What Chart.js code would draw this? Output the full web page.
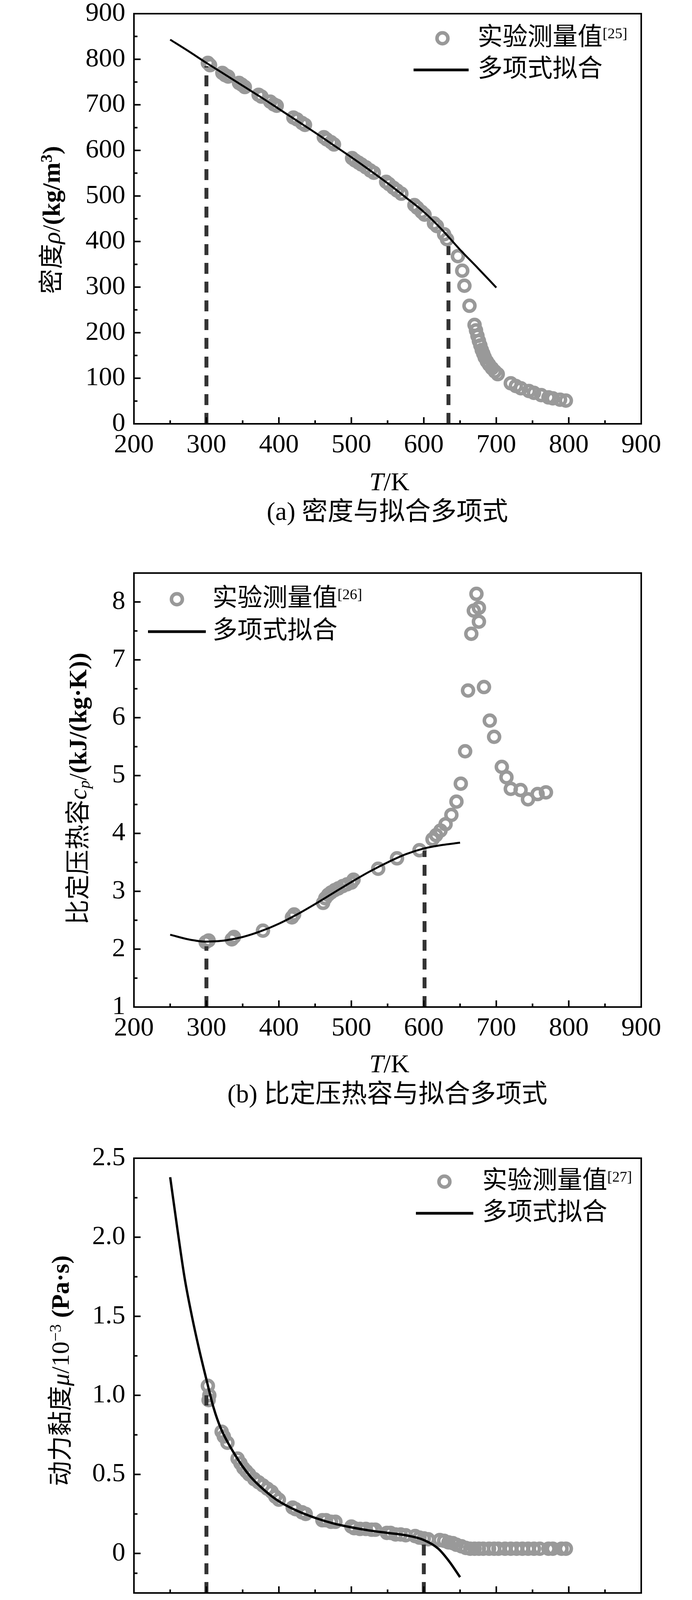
<!DOCTYPE html>
<html>
<head>
<meta charset="utf-8">
<script src="https://cdn.jsdelivr.net/npm/chart.js@4.4.0/dist/chart.umd.min.js"></script>
<style>
  html, body { margin: 0; padding: 0; background: #fff; }
  body { width: 1772px; height: 5882px; position: relative; overflow: hidden; }
  canvas { position: absolute; left: 0; }
</style>
</head>
<body>
<canvas id="pa" width="1772" height="1400" style="top:0px"></canvas>
<canvas id="pb" width="1772" height="1480" style="top:1400px"></canvas>
<canvas id="pc" width="1772" height="1500" style="top:2880px"></canvas>
<canvas id="pd" width="1772" height="1502" style="top:4380px"></canvas>
<script>
// ---- shared axis ----
const tempTicks = [200, 300, 400, 500, 600, 700, 800, 900];
const tempTickLabels = ['200', '300', '400', '500', '600', '700', '800', '900'];

// ---- (a) density ----
const densityT = [302, 305, 322, 326, 330, 345, 349, 353, 372, 376, 388, 393, 397, 420, 425, 432, 436,
  462, 466, 472, 476, 501, 505, 510, 514, 520, 526, 531, 548, 552, 558, 563, 569, 587, 591, 597, 601,
  614, 618, 628, 632, 647, 653, 656, 663, 670, 672, 674, 676, 678, 680, 682, 684, 687, 690, 694, 698,
  702, 720, 727, 734, 745, 752, 762, 772, 778, 788, 796];
const densityRho = [792, 787, 770, 765, 762, 748, 744, 739, 722, 718, 707, 701, 698, 672, 668, 660, 656,
  629, 624, 618, 613, 583, 578, 573, 569, 563, 556, 551, 531, 526, 518, 512, 505, 480, 474, 465, 459,
  440, 434, 416, 405, 368, 336, 303, 259, 217, 205, 193, 182, 172, 162, 154, 146, 137, 130, 122, 115,
  109, 89, 83, 78, 72, 68, 63, 58, 56, 53, 51];
const densityFitT = [250, 275, 300, 325, 350, 375, 400, 425, 450, 475, 500, 525, 550, 575, 600, 625, 650, 675, 700];
const densityFitRho = [843, 818, 792, 767, 742, 717, 691, 665, 639, 612, 585, 557, 528, 497, 465, 426, 382, 341, 299];
const densityGuideT = [300, 634];
const densityGuideTop = [785, 390];
const densityTicks = [0, 100, 200, 300, 400, 500, 600, 700, 800, 900];
const densityTickLabels = ['0', '100', '200', '300', '400', '500', '600', '700', '800', '900'];

// ---- (b) specific heat ----
const cpT = [299, 303, 335, 338, 378, 418, 421, 461, 464, 468, 472, 477, 482, 488, 494, 500, 503, 537, 563,
  594, 612, 617, 623, 630, 638, 645, 651, 657, 661, 665.5, 669, 672.6, 676, 676, 683, 691, 697, 707.6,
  714, 720, 733.5, 743.7, 757, 768.5];
const cpVal = [2.12, 2.15, 2.17, 2.21, 2.32, 2.55, 2.60, 2.80, 2.88, 2.94, 2.98, 3.02, 3.05, 3.09, 3.12, 3.15,
  3.20, 3.39, 3.57, 3.71, 3.90, 3.97, 4.05, 4.16, 4.32, 4.55, 4.86, 5.42, 6.47, 7.45, 7.85, 8.14, 7.90,
  7.66, 6.53, 5.95, 5.67, 5.15, 4.97, 4.77, 4.75, 4.59, 4.68, 4.71];
const cpFitT = [250, 275, 300, 325, 350, 375, 400, 425, 450, 475, 500, 525, 550, 575, 600, 625, 650];
const cpFitVal = [2.25, 2.17, 2.13, 2.15, 2.21, 2.31, 2.44, 2.60, 2.78, 2.97, 3.16, 3.34, 3.50, 3.64, 3.74, 3.80, 3.84];
const cpGuideT = [300, 601];
const cpGuideTop = [2.05, 3.70];
const cpTicks = [1, 2, 3, 4, 5, 6, 7, 8];
const cpTickLabels = ['1', '2', '3', '4', '5', '6', '7', '8'];

// ---- (c) viscosity ----
const muT = [302, 304, 303, 321, 324, 329, 343, 347, 351, 355, 359, 366, 372, 378, 384, 390, 395, 400,
  419, 423, 432, 437, 460, 465, 472, 478, 500, 504, 512, 520, 528, 533, 549, 554, 561, 568, 575, 588,
  594, 600, 606, 622, 628, 634, 640, 645, 652, 658, 664, 670, 676, 682, 690, 697, 703, 712, 720, 728,
  736, 744, 752, 760, 772, 778, 790, 796];
const muVal = [1.06, 1.00, 0.97, 0.77, 0.74, 0.70, 0.60, 0.57, 0.54, 0.52, 0.50, 0.47, 0.45, 0.43, 0.41,
  0.39, 0.36, 0.34, 0.29, 0.28, 0.26, 0.25, 0.21, 0.21, 0.20, 0.20, 0.17, 0.16, 0.155, 0.155, 0.15,
  0.15, 0.13, 0.13, 0.12, 0.12, 0.115, 0.11, 0.10, 0.095, 0.09, 0.085, 0.08, 0.07, 0.065, 0.055,
  0.045, 0.035, 0.03, 0.03, 0.03, 0.03, 0.03, 0.03, 0.03, 0.03, 0.03, 0.03, 0.03, 0.03, 0.03, 0.03,
  0.03, 0.03, 0.03, 0.03];
const muFitT = [250, 260, 270, 280, 290, 300, 310, 320, 340, 360, 380, 400, 425, 450, 475, 500, 525, 550, 575, 600, 620, 635, 650];
const muFitVal = [2.38, 2.05, 1.74, 1.50, 1.29, 1.10, 0.92, 0.79, 0.62, 0.49, 0.40, 0.33, 0.27, 0.225, 0.19,
  0.165, 0.145, 0.13, 0.115, 0.085, 0.03, -0.05, -0.15];
const muGuideT = [300, 600];
const muGuideTop = [1.0, 0.06];
const muTicks = [0, 0.5, 1.0, 1.5, 2.0, 2.5];
const muTickLabels = ['0', '0.5', '1.0', '1.5', '2.0', '2.5'];

// ---- (d) thermal conductivity ----
const lamT = [302, 308, 323, 329, 345, 354, 375, 384, 393, 400, 421, 433, 461, 470, 476, 503, 509, 522,
  528, 549, 558, 567, 586, 598, 613, 628, 638, 647, 653, 660, 665, 674, 683, 695, 704, 717, 729, 741,
  753, 765, 778, 793];
const lamVal = [0.1323, 0.1308, 0.1287, 0.1272, 0.1246, 0.1236, 0.1200, 0.1180, 0.1160, 0.1144, 0.1092,
  0.1067, 0.1010, 0.0985, 0.0969, 0.0913, 0.0892, 0.0867, 0.0851, 0.0805, 0.0785, 0.0769, 0.0728,
  0.0708, 0.0677, 0.0646, 0.0626, 0.0600, 0.0574, 0.0549, 0.0528, 0.0528, 0.0538, 0.0549, 0.0554,
  0.0564, 0.0569, 0.0579, 0.0590, 0.0605, 0.0615, 0.0631];
const lamFitT = [230, 250, 275, 300, 325, 350, 375, 400, 425, 450, 475, 500, 525, 550, 575, 600, 625, 650, 675, 700, 730];
const lamFitVal = [0.1370, 0.1362, 0.1345, 0.1318, 0.1283, 0.1242, 0.1197, 0.1149, 0.1098, 0.1046, 0.0980,
  0.0915, 0.0857, 0.0800, 0.0740, 0.0681, 0.0635, 0.0590, 0.0556, 0.0530, 0.0505];
const lamGuideT = [300, 600];
const lamGuideTop = [0.1318, 0.0677];
const lamTicks = [0.04, 0.06, 0.08, 0.10, 0.12, 0.14, 0.16];
const lamTickLabels = ['0.04', '0.06', '0.08', '0.10', '0.12', '0.14', '0.16'];

const FAM = '"Liberation Serif", "Noto Sans CJK SC"';
const PLOT_LEFT = 343, PLOT_RIGHT_PAD = 130;
const MARK_R = 14, MARK_W = 9;

function pairs(xs, ys) { return xs.map((x, i) => ({ x: x, y: ys[i] })); }

function runFont(r, base) {
  const size = r.size || base;
  return (r.it ? 'italic ' : '') + (r.b ? 'bold ' : '') + size + 'px ' + FAM;
}

// draw a list of styled text runs, centered (or left aligned) on (x, y)
function drawRuns(ctx, runs, x, y, align, base) {
  ctx.save();
  ctx.textBaseline = 'middle';
  ctx.textAlign = 'left';
  ctx.fillStyle = '#000';
  let total = 0;
  runs.forEach(r => { ctx.font = runFont(r, base); total += ctx.measureText(r.t).width; });
  let cx = align === 'center' ? x - total / 2 : x;
  runs.forEach(r => {
    ctx.font = runFont(r, base);
    const dy = r.sup ? -(r.shift || base * 0.3) : (r.sub ? base * 0.22 : 0);
    ctx.fillText(r.t, cx, y + dy);
    cx += ctx.measureText(r.t).width;
  });
  ctx.restore();
}

function makePanel(id, p) {
  const canvas = document.getElementById(id);
  const H = canvas.height;

  const datasets = [{
    data: pairs(p.fitX, p.fitY),
    showLine: true,
    borderColor: '#000',
    borderWidth: p.lineWidth,
    pointRadius: 0,
    cubicInterpolationMode: 'monotone',
    order: 0
  }];
  p.guideX.forEach((g, i) => {
    datasets.push({
      data: [{ x: g, y: p.ymin }, { x: g, y: p.guideTop[i] }],
      showLine: true,
      borderColor: '#333',
      borderWidth: 10,
      borderDash: [28, 20],
      pointRadius: 0,
      order: 1
    });
  });
  datasets.push({
    data: pairs(p.ptX, p.ptY),
    pointStyle: 'circle',
    pointRadius: MARK_R,
    pointBorderWidth: MARK_W,
    pointBorderColor: '#999999',
    pointBackgroundColor: 'rgba(0,0,0,0)',
    order: 2
  });

  const decorations = {
    id: 'decorations',
    afterDraw(chart) {
      const ctx = chart.ctx;
      const a = chart.chartArea;
      const xs = chart.scales.x, ys = chart.scales.y;
      ctx.save();
      ctx.strokeStyle = '#000';
      ctx.lineWidth = 4;
      ctx.strokeRect(a.left, a.top, a.right - a.left, a.bottom - a.top);
      ctx.beginPath();
      tempTicks.forEach((v, i) => {
        const px = xs.getPixelForValue(v);
        ctx.moveTo(px, a.bottom); ctx.lineTo(px, a.bottom - 17);
        if (i < tempTicks.length - 1) {
          const m = xs.getPixelForValue((v + tempTicks[i + 1]) / 2);
          ctx.moveTo(m, a.bottom); ctx.lineTo(m, a.bottom - 9);
        }
      });
      p.yTicks.forEach((v, i) => {
        const py = ys.getPixelForValue(v);
        ctx.moveTo(a.left, py); ctx.lineTo(a.left + 17, py);
        if (i < p.yTicks.length - 1) {
          const m = ys.getPixelForValue((v + p.yTicks[i + 1]) / 2);
          ctx.moveTo(a.left, m); ctx.lineTo(a.left + 9, m);
        }
      });
      if (p.ymin < p.yTicks[0]) {
        const m = ys.getPixelForValue((p.ymin + p.yTicks[0]) / 2);
        ctx.moveTo(a.left, m); ctx.lineTo(a.left + 9, m);
      }
      ctx.stroke();

      // legend
      const L = p.legend;
      ctx.beginPath();
      ctx.arc(L.mx, L.y1, MARK_R, 0, Math.PI * 2);
      ctx.strokeStyle = '#999999';
      ctx.lineWidth = MARK_W;
      ctx.stroke();
      ctx.beginPath();
      ctx.moveTo(L.l0, L.y2); ctx.lineTo(L.l1, L.y2);
      ctx.strokeStyle = '#000';
      ctx.lineWidth = 7;
      ctx.stroke();
      drawRuns(ctx, [{ t: '实验测量值' }, { t: p.ref, size: 38, sup: true, shift: 10 }], L.tx, L.y1, 'left', 64);
      drawRuns(ctx, [{ t: '多项式拟合' }], L.tx, L.y2, 'left', 64);

      // axis titles and caption
      drawRuns(ctx, [{ t: 'T', it: true }, { t: '/K' }], 997, p.tkY, 'center', 66);
      drawRuns(ctx, p.caption, 992, p.capY, 'center', 66);
      ctx.save();
      ctx.translate(p.ytX, p.ytY);
      ctx.rotate(-Math.PI / 2);
      drawRuns(ctx, p.yTitle, 0, 0, 'center', 64);
      ctx.restore();
      ctx.restore();
    }
  };

  new Chart(canvas, {
    type: 'scatter',
    data: { datasets: datasets },
    plugins: [decorations],
    options: {
      responsive: false,
      animation: false,
      devicePixelRatio: 1,
      layout: { padding: { top: p.plotTop, right: PLOT_RIGHT_PAD, left: 0, bottom: 0 } },
      plugins: { legend: { display: false }, tooltip: { enabled: false } },
      scales: {
        x: {
          type: 'linear', min: 200, max: 900,
          grid: { display: false, drawTicks: false, tickLength: 0 },
          border: { display: false },
          afterBuildTicks: s => { s.ticks = tempTicks.map(v => ({ value: v })); },
          afterFit: s => { s.height = H - p.plotBottom; s.paddingLeft = 0; s.paddingRight = 0; },
          ticks: {
            padding: 21, color: '#000', maxRotation: 0, autoSkip: false,
            font: { family: '"Liberation Serif"', size: 68, lineHeight: 1 },
            callback: (v, i) => tempTickLabels[i]
          }
        },
        y: {
          type: 'linear', min: p.ymin, max: p.ymax,
          grid: { display: false, drawTicks: false, tickLength: 0 },
          border: { display: false },
          afterBuildTicks: s => { s.ticks = p.yTicks.map(v => ({ value: v })); },
          afterFit: s => { s.width = PLOT_LEFT; s.paddingTop = 0; s.paddingBottom = 0; },
          ticks: {
            padding: 22, color: '#000', autoSkip: false,
            font: { family: '"Liberation Serif"', size: 68, lineHeight: 1 },
            callback: (v, i) => p.yLabels[i]
          }
        }
      }
    }
  });
}

makePanel('pa', {
  ptX: densityT, ptY: densityRho, fitX: densityFitT, fitY: densityFitRho,
  guideX: densityGuideT, guideTop: densityGuideTop,
  ymin: 0, ymax: 900, yTicks: densityTicks, yLabels: densityTickLabels,
  plotTop: 35, plotBottom: 1085, lineWidth: 5, ref: '[25]',
  legend: { mx: 1133, y1: 98, l0: 1059, l1: 1200, y2: 179, tx: 1223 },
  tkY: 1238, capY: 1314,
  caption: [{ t: '(a) 密度与拟合多项式' }],
  ytX: 136, ytY: 563,
  yTitle: [{ t: '密度' }, { t: 'ρ', it: true }, { t: '/' }, { t: '(kg/m', b: true }, { t: '3', b: true, sup: true, size: 42, shift: 14 }, { t: ')', b: true }]
});

makePanel('pb', {
  ptX: cpT, ptY: cpVal, fitX: cpFitT, fitY: cpFitVal,
  guideX: cpGuideT, guideTop: cpGuideTop,
  ymin: 1, ymax: 8.5, yTicks: cpTicks, yLabels: cpTickLabels,
  plotTop: 67, plotBottom: 1178, lineWidth: 5, ref: '[26]',
  legend: { mx: 453, y1: 134, l0: 379, l1: 527, y2: 217, tx: 544 },
  tkY: 1328, capY: 1405,
  caption: [{ t: '(b) 比定压热容与拟合多项式' }],
  ytX: 204, ytY: 619,
  yTitle: [{ t: '比定压热容' }, { t: 'c', it: true }, { t: 'p', it: true, sub: true, size: 42 }, { t: '/' }, { t: '(kJ/(kg·K))', b: true }]
});

makePanel('pc', {
  ptX: muT, ptY: muVal, fitX: muFitT, fitY: muFitVal,
  guideX: muGuideT, guideTop: muGuideTop,
  ymin: -0.25, ymax: 2.5, yTicks: muTicks, yLabels: muTickLabels,
  plotTop: 85, plotBottom: 1198, lineWidth: 6, ref: '[27]',
  legend: { mx: 1138, y1: 145, l0: 1065, l1: 1212, y2: 226, tx: 1235 },
  tkY: 1348, capY: 1420,
  caption: [{ t: '(c) 动力黏度与拟合多项式' }],
  ytX: 159, ytY: 629,
  yTitle: [{ t: '动力黏度' }, { t: 'μ', it: true }, { t: '/10' }, { t: '−3', sup: true, size: 42, shift: 14 }, { t: ' (Pa·s)', b: true }]
});

makePanel('pd', {
  ptX: lamT, ptY: lamVal, fitX: lamFitT, fitY: lamFitVal,
  guideX: lamGuideT, guideTop: lamGuideTop,
  ymin: 0.04, ymax: 0.16, yTicks: lamTicks, yLabels: lamTickLabels,
  plotTop: 105, plotBottom: 1214, lineWidth: 5, ref: '[28]',
  legend: { mx: 1133, y1: 172, l0: 1059, l1: 1206, y2: 252, tx: 1229 },
  tkY: 1370, capY: 1446,
  caption: [{ t: '(d) 导热系数与拟合多项式' }],
  ytX: 119, ytY: 676,
  yTitle: [{ t: '导热系数' }, { t: 'λ', it: true }, { t: '/(W(m·K))', b: true }]
});
</script>
</body>
</html>
